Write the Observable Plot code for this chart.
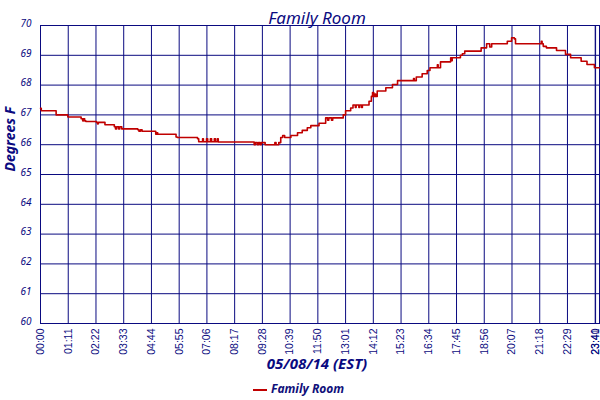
<!DOCTYPE html>
<html>
<head>
<meta charset="utf-8">
<script src="https://cdn.jsdelivr.net/npm/d3@7"></script>
<script src="https://cdn.jsdelivr.net/npm/@observablehq/plot@0.6"></script>
<style>
  html, body { margin: 0; padding: 0; background: #fff; }
  #chart { width: 600px; }
  .legend { height: 20px; line-height: 20px; font: italic bold 12px "Noto Sans", sans-serif; color: #10107a; padding-left: 253px; white-space: nowrap; }
  .legend .sw { display: inline-block; width: 14px; height: 2px; background: #c00000; vertical-align: middle; margin-right: 4px; }
</style>
</head>
<body>
<div id="chart"></div>
<script>
const title = "Family Room";
const xLabel = "05/08/14 (EST)";
const yLabel = "Degrees F";
const seriesName = "Family Room";

// minutes after midnight
const times = [
  0, 2, 40, 70, 80, 104, 108, 110, 113, 116, 143, 146, 148, 165, 189, 192, 195, 200, 203, 208,
  219, 249, 252, 256, 260, 295, 298, 300, 347, 350, 402, 405, 415, 417, 425, 428, 435, 438, 445, 448,
  453, 455, 547, 550, 555, 558, 562, 565, 575, 600, 603, 610, 615, 620, 625, 641, 658, 670, 683, 692,
  713, 730, 735, 738, 745, 748, 775, 781, 794, 800, 806, 808, 815, 817, 822, 824, 841, 847, 850, 853,
  856, 858, 862, 884, 901, 914, 955, 957, 962, 977, 990, 997, 1016, 1018, 1024, 1050, 1052, 1054, 1075, 1080,
  1086, 1128, 1142, 1150, 1155, 1195, 1206, 1213, 1216, 1282, 1284, 1287, 1295, 1321, 1344, 1357, 1384, 1399, 1418, 1431
];
const temps = [
  67.22, 67.14, 67.0, 66.93, 66.93, 66.87, 66.8, 66.87, 66.8, 66.78, 66.75, 66.7, 66.75, 66.67, 66.6, 66.53, 66.6, 66.53, 66.6, 66.53,
  66.53, 66.5, 66.45, 66.5, 66.45, 66.35, 66.4, 66.35, 66.26, 66.24, 66.2, 66.1, 66.2, 66.1, 66.2, 66.1, 66.2, 66.1, 66.2, 66.1,
  66.2, 66.09, 66.0, 66.07, 66.0, 66.07, 66.0, 66.07, 66.0, 66.07, 66.0, 66.07, 66.24, 66.31, 66.24, 66.31, 66.4, 66.48, 66.57, 66.64,
  66.72, 66.9, 66.82, 66.9, 66.82, 66.9, 67.0, 67.14, 67.23, 67.33, 67.25, 67.33, 67.25, 67.33, 67.25, 67.33, 67.46, 67.62, 67.75, 67.62,
  67.7, 67.62, 67.8, 67.91, 68.02, 68.15, 68.22, 68.15, 68.27, 68.38, 68.49, 68.58, 68.68, 68.58, 68.78, 68.92, 68.82, 68.92, 69.0, 69.05,
  69.14, 69.25, 69.39, 69.28, 69.39, 69.47, 69.59, 69.55, 69.39, 69.47, 69.39, 69.3, 69.25, 69.16, 69.03, 68.92, 68.8, 68.69, 68.58, 68.58
];

const xTicks = [0, 71, 142, 213, 284, 355, 426, 497, 568, 639, 710, 781, 852, 923, 994, 1065, 1136, 1207, 1278, 1349, 1420, 1421];
const yTicks = [60, 61, 62, 63, 64, 65, 66, 67, 68, 69, 70];

const navy = "#0a0a80";
const red = "#c00000";
const fmt = m => String(Math.floor(m / 60)).padStart(2, "0") + ":" + String(m % 60).padStart(2, "0");

const data = times.map((t, i) => ({t, v: temps[i]}));

const chart = Plot.plot({
  width: 600,
  height: 380,
  marginTop: 25,
  marginBottom: 57,
  marginLeft: 40,
  marginRight: 1,
  style: {background: "#fff", color: navy, overflow: "visible"},
  x: {domain: [0, 1431]},
  y: {domain: [60, 70]},
  marks: [
    Plot.gridX(xTicks, {stroke: navy, strokeOpacity: 1, strokeWidth: 1}),
    Plot.gridY(yTicks, {stroke: navy, strokeOpacity: 1, strokeWidth: 1}),
    Plot.frame({stroke: navy, strokeWidth: 1}),
    Plot.line(data, {x: "t", y: "v", curve: "step-after", stroke: red, strokeWidth: 1.6}),
    Plot.axisX({ticks: xTicks, tickFormat: fmt, tickSize: 0, tickPadding: 5, tickRotate: -90,
      fontFamily: "'Liberation Sans', Arial, sans-serif", fontSize: 10.5, fill: navy, label: null}),
    Plot.axisY({ticks: yTicks, tickSize: 0, tickPadding: 9, dy: -2,
      fontFamily: "'Noto Sans', sans-serif", fontStyle: "italic", fontSize: 10, fill: navy, label: null}),
    Plot.text([title], {text: d => d, frameAnchor: "top", dy: -14, dx: -3, fontSize: 17, fontStyle: "italic",
      fontFamily: "'Noto Sans', sans-serif", fill: navy}),
    Plot.text([xLabel], {text: d => d, frameAnchor: "bottom", dy: 45, dx: -3, fontSize: 15, fontStyle: "italic", fontWeight: "bold",
      fontFamily: "'Noto Sans', sans-serif", fill: navy}),
    Plot.text([yLabel], {text: d => d, frameAnchor: "left", rotate: -90, dx: -30, dy: -3, fontSize: 14, fontStyle: "italic", fontWeight: "bold",
      fontFamily: "'Noto Sans', sans-serif", fill: navy})
  ]
});
document.getElementById("chart").appendChild(chart);
const leg = document.createElement("div");
leg.className = "legend";
leg.innerHTML = '<span class="sw"></span>' + seriesName;
document.getElementById("chart").appendChild(leg);
</script>
</body>
</html>
